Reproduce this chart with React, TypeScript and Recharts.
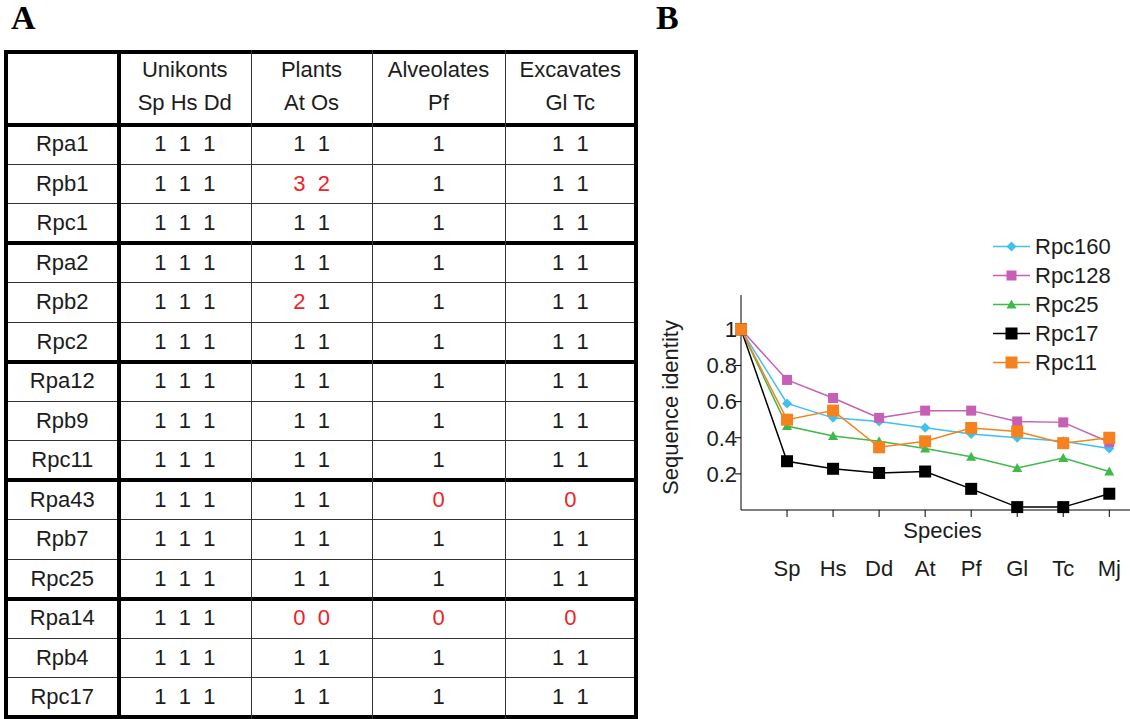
import React from "react";
import { LineChart, Line, XAxis, YAxis, Legend } from "recharts";

// ---- panel A: gene copy table ----
const rowNames = [
  "Rpa1", "Rpb1", "Rpc1",
  "Rpa2", "Rpb2", "Rpc2",
  "Rpa12", "Rpb9", "Rpc11",
  "Rpa43", "Rpb7", "Rpc25",
  "Rpa14", "Rpb4", "Rpc17",
];
const groupNames = ["Unikonts", "Plants", "Alveolates", "Excavates"];
const groupSpecies = ["Sp Hs Dd", "At Os", "Pf", "Gl Tc"];

const unikontCounts = [
  [1, 1, 1], [1, 1, 1], [1, 1, 1],
  [1, 1, 1], [1, 1, 1], [1, 1, 1],
  [1, 1, 1], [1, 1, 1], [1, 1, 1],
  [1, 1, 1], [1, 1, 1], [1, 1, 1],
  [1, 1, 1], [1, 1, 1], [1, 1, 1],
];
const plantCounts = [
  [1, 1], [3, 2], [1, 1],
  [1, 1], [2, 1], [1, 1],
  [1, 1], [1, 1], [1, 1],
  [1, 1], [1, 1], [1, 1],
  [0, 0], [1, 1], [1, 1],
];
const alveolateCounts = [
  [1], [1], [1],
  [1], [1], [1],
  [1], [1], [1],
  [0], [1], [1],
  [0], [1], [1],
];
const excavateCounts = [
  [1, 1], [1, 1], [1, 1],
  [1, 1], [1, 1], [1, 1],
  [1, 1], [1, 1], [1, 1],
  [0], [1, 1], [1, 1],
  [0], [1, 1], [1, 1],
];

// ---- panel B: sequence identity ----
const species = ["", "Sp", "Hs", "Dd", "At", "Pf", "Gl", "Tc", "Mj"];
const rpc160 = [1, 0.59, 0.51, 0.49, 0.455, 0.42, 0.4, 0.38, 0.34];
const rpc128 = [1, 0.72, 0.62, 0.51, 0.55, 0.55, 0.49, 0.485, 0.375];
const rpc25 = [1, 0.465, 0.41, 0.38, 0.34, 0.295, 0.233, 0.288, 0.213];
const rpc17 = [1, 0.27, 0.228, 0.205, 0.213, 0.117, 0.016, 0.016, 0.09];
const rpc11 = [1, 0.5, 0.55, 0.347, 0.38, 0.454, 0.435, 0.37, 0.4];
const yTicks = [0.2, 0.4, 0.6, 0.8, 1];

const series = [
  { key: "Rpc160", values: rpc160, color: "#3fc0ef", shape: "diamond", size: 10 },
  { key: "Rpc128", values: rpc128, color: "#c560b4", shape: "square", size: 10 },
  { key: "Rpc25", values: rpc25, color: "#3fb94a", shape: "triangle", size: 10 },
  { key: "Rpc17", values: rpc17, color: "#000000", shape: "square", size: 12 },
  { key: "Rpc11", values: rpc11, color: "#f6821f", shape: "square", size: 12 },
];

const chartData = species.map((name, i) => {
  const row: any = { idx: i, name };
  series.forEach((s) => (row[s.key] = s.values[i]));
  return row;
});

const FONT = "'Liberation Sans', Arial, sans-serif";
const FS = 22;
const TEXT = "#1c1c1c";
const RED = "#ee2229";

// table grid
const colX = [6, 118.5, 251, 372, 505, 635.5];
const headerLine = 124.5;
const rowH = 39.5;
const rowLineY = rowNames.map((_, i) => headerLine + rowH * (i + 1));

function Marker({ cx, cy, shape, color, size }: any) {
  if (cx == null || cy == null) return null;
  const h = size / 2;
  if (shape === "diamond") {
    return <polygon points={`${cx},${cy - h} ${cx + h},${cy} ${cx},${cy + h} ${cx - h},${cy}`} fill={color} />;
  }
  if (shape === "triangle") {
    return <polygon points={`${cx},${cy - h} ${cx + h},${cy + h * 0.8} ${cx - h},${cy + h * 0.8}`} fill={color} />;
  }
  return <rect x={cx - h} y={cy - h} width={size} height={size} fill={color} />;
}

function SpeciesTick({ x, y, payload }: any) {
  return (
    <text x={x} y={y + 49} textAnchor="middle" dominantBaseline="central" fontSize={FS} fill={TEXT}>
      {species[payload.value]}
    </text>
  );
}

function XLabel({ viewBox }: any) {
  return (
    <text
      x={viewBox.x + viewBox.width / 2 + 7}
      y={viewBox.y + 20}
      textAnchor="middle"
      dominantBaseline="central"
      fontSize={FS}
      fill={TEXT}
    >
      Species
    </text>
  );
}

function YLabel({ viewBox }: any) {
  const cx = viewBox.x + 20;
  const cy = viewBox.y + viewBox.height / 2 + 5;
  return (
    <text
      x={cx}
      y={cy}
      transform={`rotate(-90 ${cx} ${cy})`}
      textAnchor="middle"
      dominantBaseline="central"
      fontSize={FS}
      fill={TEXT}
    >
      Sequence identity
    </text>
  );
}

function LegendBox({ payload }: any) {
  const items = [...(payload || [])].sort(
    (a: any, b: any) =>
      series.findIndex((s) => s.key === a.dataKey) - series.findIndex((s) => s.key === b.dataKey)
  );
  return (
    <svg width={140} height={items.length * 29 + 4}>
      {items.map((p: any, i: number) => {
        const s = series.find((d) => d.key === p.dataKey) || series[0];
        const cy = 14.5 + i * 29;
        return (
          <g key={p.dataKey}>
            <line x1={0} x2={37} y1={cy} y2={cy} stroke={s.color} strokeWidth={1.5} />
            <Marker cx={18.5} cy={cy} shape={s.shape} color={s.color} size={s.size} />
            <text x={42} y={cy} dominantBaseline="central" fontSize={FS} fill={TEXT} fontFamily={FONT}>
              {p.value}
            </text>
          </g>
        );
      })}
    </svg>
  );
}

function Counts({ values }: { values: number[] }) {
  return (
    <span>
      {values.map((v, i) => (
        <span
          key={i}
          style={{ display: "inline-block", width: 24.5, textAlign: "center", color: v === 1 ? TEXT : RED }}
        >
          {v}
        </span>
      ))}
    </span>
  );
}

function Table() {
  const cell = (c: number, r: number, content: React.ReactNode) => (
    <div
      key={`c${c}-${r}`}
      style={{
        position: "absolute",
        left: colX[c],
        width: colX[c + 1] - colX[c],
        top: headerLine + rowH * r,
        height: rowH,
        display: "flex",
        alignItems: "center",
        justifyContent: "center",
        fontSize: FS,
        color: TEXT,
      }}
    >
      {content}
    </div>
  );
  const countCols = [unikontCounts, plantCounts, alveolateCounts, excavateCounts];
  return (
    <>
      {/* header */}
      {groupNames.map((g, i) => (
        <React.Fragment key={g}>
          <div style={{ position: "absolute", left: colX[i + 1], width: colX[i + 2] - colX[i + 1], top: 57, lineHeight: "26px", textAlign: "center", fontSize: FS, color: TEXT }}>
            {g}
          </div>
          <div style={{ position: "absolute", left: colX[i + 1], width: colX[i + 2] - colX[i + 1], top: 90, lineHeight: "26px", textAlign: "center", fontSize: FS, color: TEXT }}>
            {groupSpecies[i]}
          </div>
        </React.Fragment>
      ))}
      {rowNames.map((name, r) => (
        <React.Fragment key={name}>
          {cell(0, r, name)}
          {countCols.map((col, c) => cell(c + 1, r, <Counts values={col[r]} />))}
        </React.Fragment>
      ))}
      {/* horizontal rules */}
      {[51.5, headerLine, ...rowLineY].map((y, i) => {
        const thick = i < 2 || (i - 1) % 3 === 0;
        const w = thick ? 4 : 1;
        return (
          <div
            key={`h${i}`}
            style={{ position: "absolute", left: colX[0] - 2, width: colX[5] - colX[0] + 4, top: y - w / 2, height: w, background: thick ? "#000" : "#333" }}
          />
        );
      })}
      {/* vertical rules */}
      {colX.map((x, i) => {
        const thick = i < 2 || i === 5;
        const w = thick ? 4 : 1;
        return (
          <div
            key={`v${i}`}
            style={{ position: "absolute", left: x - w / 2, width: w, top: 49.5, height: 719 - 49.5, background: thick ? "#000" : "#333" }}
          />
        );
      })}
    </>
  );
}

export default function App() {
  return (
    <div style={{ position: "absolute", left: 0, top: 0, width: 1130, height: 719, background: "#fff", overflow: "hidden", fontFamily: FONT }}>
      <div style={{ position: "absolute", left: 11, top: 1, fontFamily: "'Liberation Serif', serif", fontWeight: "bold", fontSize: 34, lineHeight: "34px" }}>A</div>
      <div style={{ position: "absolute", left: 656, top: 1, fontFamily: "'Liberation Serif', serif", fontWeight: "bold", fontSize: 34, lineHeight: "34px" }}>B</div>
      <Table />
      <div style={{ position: "absolute", left: 650, top: 220 }}>
        <LineChart width={480} height={380} data={chartData} margin={{ top: 75, right: 0, bottom: 0, left: 0 }}>
          <XAxis
            dataKey="idx"
            type="number"
            domain={[0, 8.45]}
            ticks={species.map((_, i) => i).slice(1)}
            interval={0}
            height={90}
            stroke="#000"
            tickSize={7}
            tick={<SpeciesTick />}
            label={<XLabel />}
          />
          <YAxis
            domain={[0, 1.19]}
            ticks={yTicks}
            width={91}
            stroke="#000"
            tickSize={6}
            tick={{ fontSize: FS, fill: TEXT, dx: 4 }}
            label={<YLabel />}
          />
          <Legend
            layout="vertical"
            align="center"
            verticalAlign="middle"
            wrapperStyle={{ position: "absolute", left: 343, top: 12, width: 140 }}
            content={<LegendBox />}
          />
          {series.map((s) => (
            <Line
              key={s.key}
              dataKey={s.key}
              name={s.key}
              stroke={s.color}
              strokeWidth={1.5}
              isAnimationActive={false}
              activeDot={false}
              dot={(p: any) => (
                <Marker key={`${s.key}-${p.index}`} cx={p.cx} cy={p.cy} shape={s.shape} color={s.color} size={s.size} />
              )}
            />
          ))}
        </LineChart>
      </div>
    </div>
  );
}
